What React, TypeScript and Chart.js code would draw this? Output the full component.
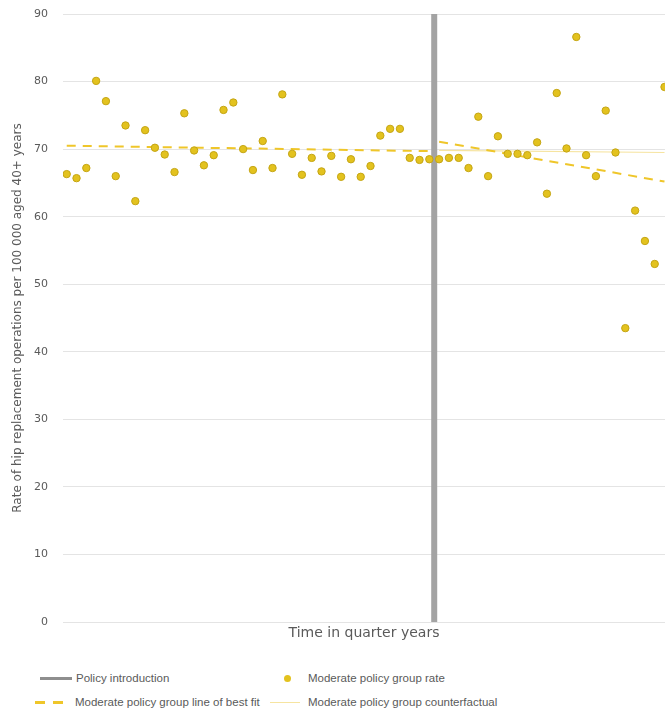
import React, { useEffect, useRef } from "react";
import { Chart, registerables } from "chart.js";

Chart.register(...registerables);

// Quarter index (1-based) for each observation
const quarters: number[] = [
  1, 2, 3, 4, 5, 6, 7, 8, 9, 10, 11, 12, 13, 14, 15, 16, 17, 18, 19, 20, 21,
  22, 23, 24, 25, 26, 27, 28, 29, 30, 31, 32, 33, 34, 35, 36, 37, 38, 39, 40,
  41, 42, 43, 44, 45, 46, 47, 48, 49, 50, 51, 52, 53, 54, 55, 56, 57, 58, 59,
  60, 61, 62,
];

// Moderate policy group rate (per 100 000 aged 40+)
const rates: number[] = [
  66.3, 65.7, 67.2, 80.1, 77.1, 66.0, 73.5, 62.3, 72.8, 70.2, 69.2, 66.6,
  75.3, 69.8, 67.6, 69.1, 75.8, 76.9, 70.0, 66.9, 71.2, 67.2, 78.1, 69.3,
  66.2, 68.7, 66.7, 69.0, 65.9, 68.5, 65.9, 67.5, 72.0, 73.0, 73.0, 68.7,
  68.4, 68.5, 68.5, 68.7, 68.7, 67.2, 74.8, 66.0, 71.9, 69.3, 69.3, 69.1,
  71.0, 63.4, 78.3, 70.1, 86.6, 69.1, 66.0, 75.7, 69.5, 43.5, 60.9, 56.4,
  53.0, 79.2,
];

// Policy introduction (between quarters 38 and 39)
const policyQuarter = 38.5;

// Line of best fit end points
const preFitX: number[] = [1, 38];
const preFitY: number[] = [70.5, 69.7];
const postFitX: number[] = [39, 62];
const postFitY: number[] = [71.1, 65.2];

// Counterfactual (pre-policy trend continued)
const cfX: number[] = [39, 62];
const cfY: number[] = [69.8, 69.5];

const yTicks: number[] = [0, 10, 20, 30, 40, 50, 60, 70, 80, 90];

const TEXT = "#5a5a5a";
const AXIS_FONT = "'DejaVu Sans', sans-serif";
const LEGEND_FONT = "'Liberation Sans', Arial, sans-serif";

export default function App() {
  const ref = useRef<HTMLCanvasElement | null>(null);

  useEffect(() => {
    document.body.style.margin = "0";
    const canvas = ref.current;
    if (!canvas) return;
    const pts = (xs: number[], ys: number[]) =>
      xs.map((x, i) => ({ x, y: ys[i] }));

    const chart = new Chart(canvas, {
      type: "scatter",
      data: {
        datasets: [
          {
            type: "line",
            label: "Policy introduction",
            data: [
              { x: policyQuarter, y: yTicks[0] },
              { x: policyQuarter, y: yTicks[yTicks.length - 1] },
            ],
            borderColor: "#a3a3a3",
            borderWidth: 6,
            pointRadius: 0,
            order: 10,
          },
          {
            type: "line",
            label: "Moderate policy group counterfactual",
            data: pts(cfX, cfY),
            borderColor: "#f6e4a0",
            borderWidth: 1.2,
            pointRadius: 0,
            order: 5,
          },
          {
            type: "line",
            label: "Moderate policy group line of best fit",
            data: pts(preFitX, preFitY),
            borderColor: "#efc62a",
            borderWidth: 2,
            borderDash: [9, 7],
            pointRadius: 0,
            order: 4,
          },
          {
            type: "line",
            label: "Moderate policy group line of best fit (post)",
            data: pts(postFitX, postFitY),
            borderColor: "#efc62a",
            borderWidth: 2,
            borderDash: [9, 7],
            pointRadius: 0,
            order: 4,
          },
          {
            type: "scatter",
            label: "Moderate policy group rate",
            data: pts(quarters, rates),
            backgroundColor: "#e3c21e",
            borderColor: "#c4a514",
            borderWidth: 1,
            pointRadius: 3.7,
            order: 1,
          },
        ],
      },
      options: {
        animation: false,
        responsive: false,
        devicePixelRatio: 1,
        layout: { padding: { top: 0, right: 0, left: 0, bottom: 0 } },
        plugins: {
          legend: { display: false },
          tooltip: { enabled: false },
        },
        scales: {
          x: {
            type: "linear",
            min: 0.62,
            max: 62.05,
            grid: { display: false, drawTicks: false },
            border: { display: false },
            ticks: { display: false },
            afterFit: (axis: any) => {
              axis.height = 20;
            },
            title: {
              display: true,
              text: "Time in quarter years",
              color: TEXT,
              font: { family: AXIS_FONT, size: 14 },
              padding: { top: 0, bottom: 0.6 },
            },
          },
          y: {
            min: yTicks[0],
            max: yTicks[yTicks.length - 1],
            afterBuildTicks: (axis: any) => {
              axis.ticks = yTicks.map((v) => ({ value: v }));
            },
            afterFit: (axis: any) => {
              axis.width = 63;
              axis.paddingTop = 14;
              axis.paddingBottom = 0;
            },
            grid: { color: "#e4e4e4", drawTicks: false },
            border: { display: false },
            ticks: {
              color: TEXT,
              font: { family: AXIS_FONT, size: 11 },
              padding: 15,
            },
            title: {
              display: true,
              text: "Rate of hip replacement operations per 100 000 aged 40+ years",
              color: TEXT,
              font: { family: AXIS_FONT, size: 12 },
              padding: { top: 10.8, bottom: 0 },
            },
          },
        },
      },
    });
    return () => chart.destroy();
  }, []);

  const legendText: React.CSSProperties = {
    position: "absolute",
    fontFamily: LEGEND_FONT,
    fontSize: 11.5,
    color: TEXT,
    whiteSpace: "nowrap",
    lineHeight: "14px",
  };

  return (
    <div style={{ position: "relative", width: 665, height: 719, overflow: "hidden", background: "#fff" }}>
      <canvas ref={ref} width={670} height={642} style={{ display: "block" }} />
      {/* Legend row 1 */}
      <div style={{ position: "absolute", left: 40, top: 677, width: 32, height: 3, background: "#8e8e8e" }} />
      <div style={{ ...legendText, left: 76, top: 671 }}>Policy introduction</div>
      <div style={{ position: "absolute", left: 284, top: 675, width: 7, height: 7, borderRadius: "50%", background: "#e3c21e" }} />
      <div style={{ ...legendText, left: 308, top: 671 }}>Moderate policy group rate</div>
      {/* Legend row 2 */}
      <div style={{ position: "absolute", left: 35, top: 701, width: 10, height: 3, background: "#efc62a" }} />
      <div style={{ position: "absolute", left: 53, top: 701, width: 10, height: 3, background: "#efc62a" }} />
      <div style={{ ...legendText, left: 75, top: 695 }}>Moderate policy group line of best fit</div>
      <div style={{ position: "absolute", left: 270, top: 702, width: 30, height: 1, background: "#f6e4a0" }} />
      <div style={{ ...legendText, left: 308, top: 695 }}>Moderate policy group counterfactual</div>
    </div>
  );
}
